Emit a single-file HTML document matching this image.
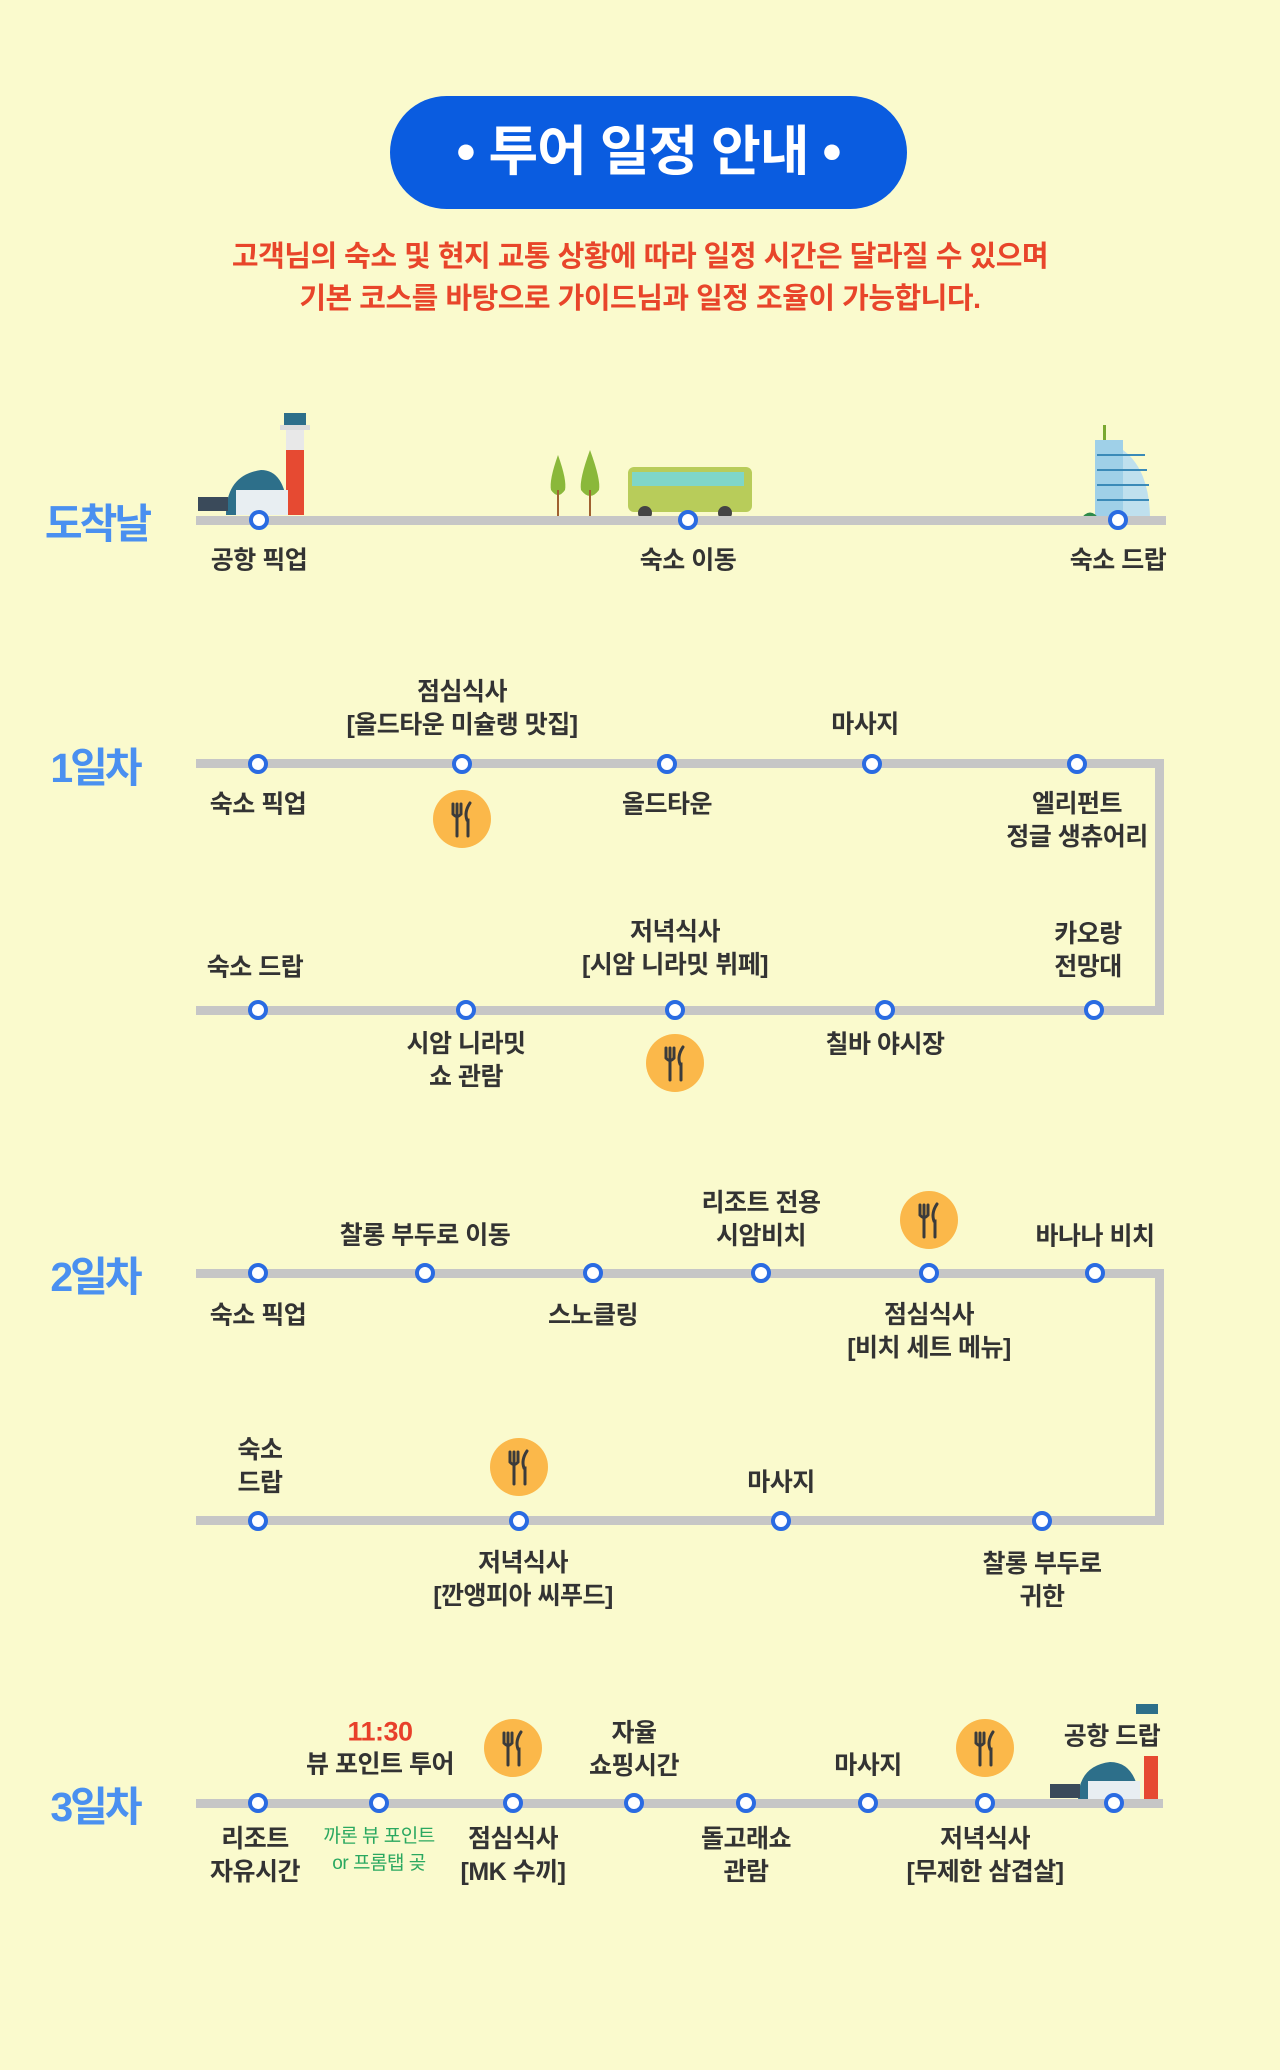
<!DOCTYPE html>
<html><head><meta charset="utf-8"><style>
*{margin:0;padding:0;box-sizing:border-box}
body{width:1280px;height:2070px;background:#fafacd;position:relative;overflow:hidden;font-family:"Liberation Sans","Noto Sans CJK KR",sans-serif}
.pill{position:absolute;left:390px;top:96px;width:517px;height:113px;border-radius:57px;background:#0a5ce0;color:#fff;font-weight:bold;font-size:54px;text-align:center;line-height:113px;letter-spacing:-1px}
.sub{position:absolute;left:0;width:1280px;text-align:center;color:#e8452a;font-size:29px;font-weight:bold;line-height:42px;top:236px;letter-spacing:-0.5px}
.h{position:absolute;height:9px;background:#c6c6c6}
.v{position:absolute;width:9px;background:#c6c6c6}
.d{position:absolute;width:20px;height:20px;margin:-10px 0 0 -10px;border-radius:50%;background:#fff;border:4px solid #2a6be2}
.l{position:absolute;transform:translate(-50%,-50%);text-align:center;white-space:nowrap;font-size:25px;font-weight:bold;color:#333;line-height:33px;letter-spacing:-0.5px}
.day{position:absolute;transform:translate(-50%,-50%);font-size:41px;font-weight:bold;color:#4a90f0;letter-spacing:-3px}
.f{position:absolute;width:58px;height:58px;margin:-29px 0 0 -29px;border-radius:50%;background:#fbb84a}
.f svg{position:absolute;left:0;top:0}
</style></head><body>
<div class="pill">• 투어 일정 안내 •</div>
<div class="sub">고객님의 숙소 및 현지 교통 상황에 따라 일정 시간은 달라질 수 있으며<br>기본 코스를 바탕으로 가이드님과 일정 조율이 가능합니다.</div>

<!-- arrival -->
<div class="day" style="left:97px;top:520px">도착날</div>
<svg style="position:absolute;left:196px;top:405px" width="130" height="115">
<rect x="88" y="8" width="22" height="12" fill="#2d6f8a"/><rect x="84" y="20" width="30" height="5" fill="#ddd"/>
<rect x="90" y="25" width="18" height="20" fill="#e8e8e8"/><rect x="90" y="45" width="18" height="65" fill="#e64a32"/>
<path d="M30 110 Q30 70 65 65 Q90 65 92 110Z" fill="#2d6f8a"/><rect x="40" y="85" width="52" height="25" fill="#e8eef2"/>
<rect x="2" y="92" width="30" height="14" fill="#3a4a5a"/>
</svg>
<svg style="position:absolute;left:545px;top:450px" width="210" height="70">
<path d="M13 5 Q4 30 6 40 Q13 50 20 40 Q22 30 13 5Z" fill="#8ab83a"/><line x1="13" y1="40" x2="13" y2="68" stroke="#a06030" stroke-width="2"/>
<path d="M45 0 Q34 30 36 40 Q45 52 54 40 Q56 30 45 0Z" fill="#8ab83a"/><line x1="45" y1="40" x2="45" y2="68" stroke="#a06030" stroke-width="2"/>
<rect x="83" y="17" width="124" height="45" rx="6" fill="#b8cc5a"/><rect x="87" y="22" width="112" height="14" fill="#7fd6c8"/>
<circle cx="100" cy="63" r="7" fill="#444"/><circle cx="180" cy="63" r="7" fill="#444"/>
</svg>
<svg style="position:absolute;left:1075px;top:420px" width="90" height="100">
<rect x="20" y="20" width="28" height="80" fill="#9fd0e8"/><path d="M48 30 Q75 50 75 100 L48 100Z" fill="#bfe0ee"/>
<g stroke="#3a8ab8" stroke-width="2"><line x1="22" y1="35" x2="70" y2="35"/><line x1="22" y1="50" x2="72" y2="50"/><line x1="22" y1="65" x2="74" y2="65"/><line x1="22" y1="80" x2="74" y2="80"/></g>
<path d="M5 100 Q15 85 25 100Z" fill="#2e8a4a"/><rect x="28" y="5" width="3" height="15" fill="#7aa830"/>
</svg>
<div class="h" style="left:196px;top:516px;width:970px"></div>
<div class="d" style="left:259px;top:520px"></div><div class="d" style="left:688px;top:520px"></div><div class="d" style="left:1118px;top:520px"></div>
<div class="l" style="left:259px;top:561px">공항 픽업</div>
<div class="l" style="left:688px;top:561px">숙소 이동</div>
<div class="l" style="left:1118px;top:561px">숙소 드랍</div>

<!-- day1 -->
<div class="day" style="left:95px;top:764px">1일차</div>
<div class="h" style="left:196px;top:759px;width:968px"></div>
<div class="v" style="left:1155px;top:759px;height:256px"></div>
<div class="h" style="left:196px;top:1006px;width:968px"></div>
<div class="d" style="left:258px;top:764px"></div><div class="d" style="left:462px;top:764px"></div><div class="d" style="left:667px;top:764px"></div><div class="d" style="left:872px;top:764px"></div><div class="d" style="left:1077px;top:764px"></div>
<div class="l" style="left:462px;top:709px">점심식사<br>[올드타운 미슐랭 맛집]</div>
<div class="l" style="left:865px;top:725px">마사지</div>
<div class="l" style="left:258px;top:805px">숙소 픽업</div>
<div class="l" style="left:667px;top:805px">올드타운</div>
<div class="l" style="left:1077px;top:821px">엘리펀트<br>정글 생츄어리</div>
<div class="f" style="left:462px;top:819px"><svg width="58" height="58"><g stroke="#3b3b3b" stroke-width="3" fill="none" stroke-linecap="round"><path d="M20 14 V24 M24 14 V24 M28 14 V24 M20 24 Q24 29 28 24 M24 27 V46"/><path d="M37 13 Q31 22 34 30 L35 30 V46"/></g></svg></div>
<div class="d" style="left:258px;top:1010px"></div><div class="d" style="left:466px;top:1010px"></div><div class="d" style="left:675px;top:1010px"></div><div class="d" style="left:885px;top:1010px"></div><div class="d" style="left:1094px;top:1010px"></div>
<div class="l" style="left:255px;top:968px">숙소 드랍</div>
<div class="l" style="left:675px;top:949px">저녁식사<br>[시암 니라밋 뷔페]</div>
<div class="l" style="left:1088px;top:951px">카오랑<br>전망대</div>
<div class="l" style="left:466px;top:1061px">시암 니라밋<br>쇼 관람</div>
<div class="l" style="left:885px;top:1045px">칠바 야시장</div>
<div class="f" style="left:675px;top:1063px"><svg width="58" height="58"><g stroke="#3b3b3b" stroke-width="3" fill="none" stroke-linecap="round"><path d="M20 14 V24 M24 14 V24 M28 14 V24 M20 24 Q24 29 28 24 M24 27 V46"/><path d="M37 13 Q31 22 34 30 L35 30 V46"/></g></svg></div>

<!-- day2 -->
<div class="day" style="left:95px;top:1273px">2일차</div>
<div class="h" style="left:196px;top:1269px;width:968px"></div>
<div class="v" style="left:1155px;top:1269px;height:256px"></div>
<div class="h" style="left:196px;top:1516px;width:968px"></div>
<div class="d" style="left:258px;top:1273px"></div><div class="d" style="left:425px;top:1273px"></div><div class="d" style="left:593px;top:1273px"></div><div class="d" style="left:761px;top:1273px"></div><div class="d" style="left:929px;top:1273px"></div><div class="d" style="left:1095px;top:1273px"></div>
<div class="l" style="left:425px;top:1236px">찰롱 부두로 이동</div>
<div class="l" style="left:761px;top:1220px">리조트 전용<br>시암비치</div>
<div class="f" style="left:929px;top:1220px"><svg width="58" height="58"><g stroke="#3b3b3b" stroke-width="3" fill="none" stroke-linecap="round"><path d="M20 14 V24 M24 14 V24 M28 14 V24 M20 24 Q24 29 28 24 M24 27 V46"/><path d="M37 13 Q31 22 34 30 L35 30 V46"/></g></svg></div>
<div class="l" style="left:1095px;top:1237px">바나나 비치</div>
<div class="l" style="left:258px;top:1316px">숙소 픽업</div>
<div class="l" style="left:593px;top:1316px">스노클링</div>
<div class="l" style="left:929px;top:1332px">점심식사<br>[비치 세트 메뉴]</div>
<div class="d" style="left:258px;top:1521px"></div><div class="d" style="left:519px;top:1521px"></div><div class="d" style="left:781px;top:1521px"></div><div class="d" style="left:1042px;top:1521px"></div>
<div class="l" style="left:260px;top:1467px">숙소<br>드랍</div>
<div class="f" style="left:519px;top:1467px"><svg width="58" height="58"><g stroke="#3b3b3b" stroke-width="3" fill="none" stroke-linecap="round"><path d="M20 14 V24 M24 14 V24 M28 14 V24 M20 24 Q24 29 28 24 M24 27 V46"/><path d="M37 13 Q31 22 34 30 L35 30 V46"/></g></svg></div>
<div class="l" style="left:781px;top:1483px">마사지</div>
<div class="l" style="left:523px;top:1580px">저녁식사<br>[깐앵피아 씨푸드]</div>
<div class="l" style="left:1042px;top:1581px">찰롱 부두로<br>귀한</div>

<!-- day3 -->
<div class="day" style="left:95px;top:1803px">3일차</div>
<svg style="position:absolute;left:1048px;top:1696px" width="120" height="105">
<rect x="88" y="8" width="22" height="10" fill="#2d6f8a"/><rect x="96" y="60" width="14" height="45" fill="#e64a32"/>
<path d="M30 105 Q30 70 62 66 Q88 66 92 105Z" fill="#2d6f8a"/><rect x="40" y="85" width="52" height="20" fill="#e8eef2"/>
<rect x="2" y="88" width="30" height="14" fill="#3a4a5a"/>
</svg>
<div class="h" style="left:196px;top:1799px;width:967px"></div>
<div class="d" style="left:258px;top:1803px"></div><div class="d" style="left:379px;top:1803px"></div><div class="d" style="left:513px;top:1803px"></div><div class="d" style="left:634px;top:1803px"></div><div class="d" style="left:746px;top:1803px"></div><div class="d" style="left:868px;top:1803px"></div><div class="d" style="left:985px;top:1803px"></div><div class="d" style="left:1114px;top:1803px"></div>
<div class="l" style="left:380px;top:1732px;color:#e8402a;font-size:27px">11:30</div>
<div class="l" style="left:380px;top:1765px">뷰 포인트 투어</div>
<div class="f" style="left:513px;top:1748px"><svg width="58" height="58"><g stroke="#3b3b3b" stroke-width="3" fill="none" stroke-linecap="round"><path d="M20 14 V24 M24 14 V24 M28 14 V24 M20 24 Q24 29 28 24 M24 27 V46"/><path d="M37 13 Q31 22 34 30 L35 30 V46"/></g></svg></div>
<div class="l" style="left:634px;top:1750px">자율<br>쇼핑시간</div>
<div class="l" style="left:868px;top:1766px">마사지</div>
<div class="f" style="left:985px;top:1748px"><svg width="58" height="58"><g stroke="#3b3b3b" stroke-width="3" fill="none" stroke-linecap="round"><path d="M20 14 V24 M24 14 V24 M28 14 V24 M20 24 Q24 29 28 24 M24 27 V46"/><path d="M37 13 Q31 22 34 30 L35 30 V46"/></g></svg></div>
<div class="l" style="left:1112px;top:1737px">공항 드랍</div>
<div class="l" style="left:255px;top:1856px">리조트<br>자유시간</div>
<div class="l" style="left:379px;top:1850px;color:#2aa860;font-size:19px;font-weight:normal;line-height:27px">까론 뷰 포인트<br>or 프롬탭 곶</div>
<div class="l" style="left:513px;top:1856px">점심식사<br>[MK 수끼]</div>
<div class="l" style="left:746px;top:1856px">돌고래쇼<br>관람</div>
<div class="l" style="left:985px;top:1856px">저녁식사<br>[무제한 삼겹살]</div>
</body></html>
